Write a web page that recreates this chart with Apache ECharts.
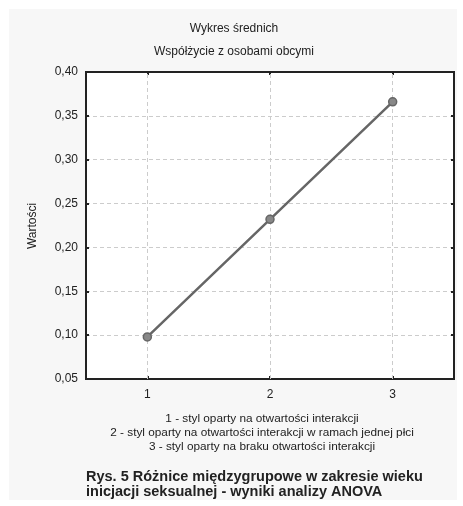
<!DOCTYPE html>
<html><head><meta charset="utf-8">
<script src="https://cdn.jsdelivr.net/npm/echarts@6/dist/echarts.min.js"></script>
<style>html,body{margin:0;padding:0;background:#fff}#c{width:463px;height:506px}</style>
</head><body><div id="c"></div>
<script>
const categories = ['1', '2', '3'];
const means = [0.098, 0.232, 0.366];
const yTicks = { min: 0.05, max: 0.40, step: 0.05 };
const titleText = 'Wykres średnich';
const subtitleText = 'Współżycie z osobami obcymi';
const yName = 'Wartości';
const legendLines = [
  '1 - styl oparty na otwartości interakcji',
  '2 - styl oparty na otwartości interakcji w ramach jednej płci',
  '3 - styl oparty na braku otwartości interakcji'
];
const captionLines = [
  'Rys. 5 Różnice międzygrupowe w zakresie wieku',
  'inicjacji seksualnej - wyniki analizy ANOVA'
];

const FONT = '"Liberation Sans", Arial, sans-serif';
const chart = echarts.init(document.getElementById('c'));
const fmt = v => v.toFixed(2).replace('.', ',');
const grid = { left: 86, top: 72, right: 9, bottom: 127 };

const baseX = {
  type: 'category', data: categories, boundaryGap: true, gridIndex: 0,
  axisLine: { show: true, lineStyle: { color: '#222', width: 2 } },
  axisTick: { show: true, inside: true, length: 3, alignWithLabel: true, lineStyle: { color: '#222', width: 2 } },
};
const baseY = {
  type: 'value', min: yTicks.min, max: yTicks.max, interval: yTicks.step, gridIndex: 0,
  axisLine: { show: true, lineStyle: { color: '#222', width: 2 } },
  axisTick: { show: true, inside: true, length: 3, lineStyle: { color: '#222', width: 2 } },
};

chart.setOption({
  animation: false,
  textStyle: { fontFamily: FONT },
  graphic: [
    { type: 'rect', z: -10, silent: true, shape: { x: 9, y: 9, width: 448, height: 491 }, style: { fill: '#f7f7f7' } },
    { type: 'text', x: 234, y: 29, style: { text: titleText, font: '12px ' + FONT, fill: '#222', textAlign: 'center', textVerticalAlign: 'middle' } },
    { type: 'text', x: 234, y: 52, style: { text: subtitleText, font: '12px ' + FONT, fill: '#222', textAlign: 'center', textVerticalAlign: 'middle' } },
    { type: 'text', x: 33, y: 226, rotation: Math.PI / 2, style: { text: yName, font: '12px ' + FONT, fill: '#222', textAlign: 'center', textVerticalAlign: 'middle' } },
    ...legendLines.map((t, i) => ({ type: 'text', x: 262, y: 419 + i * 14, style: { text: t, font: '11.8px ' + FONT, fill: '#222', textAlign: 'center', textVerticalAlign: 'middle' } })),
    ...captionLines.map((t, i) => ({ type: 'text', x: 86, y: 477 + i * 15, style: { text: t, font: 'bold 14.5px ' + FONT, fill: '#222', textAlign: 'left', textVerticalAlign: 'middle' } }))
  ],
  grid: Object.assign({ show: true, backgroundColor: '#fff', borderColor: '#222', borderWidth: 2 }, grid),
  xAxis: [
    Object.assign({}, baseX, {
      position: 'bottom',
      axisLabel: { show: true, color: '#222', fontSize: 12, margin: 10 },
      splitLine: { show: false }
    }),
    Object.assign({}, baseX, { position: 'top', axisLabel: { show: false }, splitLine: { show: false } })
  ],
  yAxis: [
    Object.assign({}, baseY, {
      position: 'left',
      axisLabel: { show: true, color: '#222', fontSize: 12, margin: 8, formatter: fmt },
      splitLine: { show: true, lineStyle: { color: '#ccc', type: [4, 3], width: 1 } }
    }),
    Object.assign({}, baseY, { position: 'right', axisLabel: { show: false }, splitLine: { show: false } })
  ],
  series: [{
    type: 'line', xAxisIndex: 0, yAxisIndex: 0, data: means,
    symbol: 'circle', symbolSize: 8,
    lineStyle: { color: '#666', width: 2.5 },
    itemStyle: { color: '#888', borderColor: '#666', borderWidth: 1.5 },
    markLine: {
      silent: true, symbol: 'none', animation: false, z: 1,
      label: { show: false },
      lineStyle: { color: '#ccc', type: [4, 3], width: 1 },
      emphasis: { disabled: true },
      data: categories.map(c => ({ xAxis: c }))
    }
  }]
});
</script></body></html>
